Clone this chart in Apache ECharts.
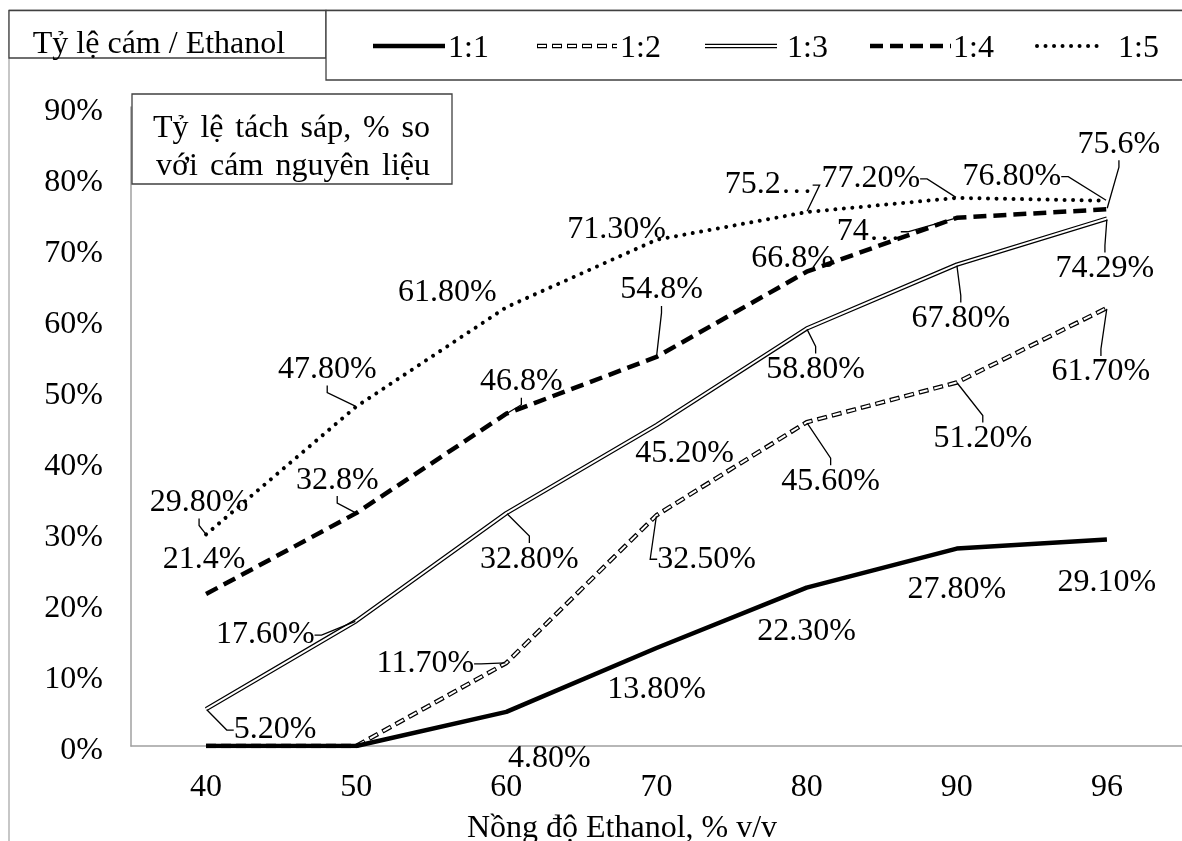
<!DOCTYPE html>
<html><head><meta charset="utf-8">
<script src="https://cdn.jsdelivr.net/npm/echarts@6/dist/echarts.min.js"></script>
<style>html,body{margin:0;padding:0;background:#fff}#c{width:1182px;height:841px}</style>
</head><body><div id="c"></div>
<script>
// ---------- data ----------
const categories = ['40', '50', '60', '70', '80', '90', '96'];
const seriesNames = ['1:1', '1:2', '1:3', '1:4', '1:5'];
const v11 = [0, 0, 4.8, 13.8, 22.3, 27.8, 29.1];
const v12 = [0, 0, 11.7, 32.5, 45.6, 51.2, 61.7];
const v13 = [5.2, 17.6, 32.8, 45.2, 58.8, 67.8, 74.29];
const v14 = [21.4, 32.8, 46.8, 54.8, 66.8, 74.4, 75.6];
const v15 = [29.8, 47.8, 61.8, 71.3, 75.2, 77.2, 76.8];
const t11 = [null, null, '4.80%', '13.80%', '22.30%', '27.80%', '29.10%'];
const t12 = [null, null, '11.70%', '32.50%', '45.60%', '51.20%', '61.70%'];
const t13 = ['5.20%', '17.60%', '32.80%', '45.20%', '58.80%', '67.80%', '74.29%'];
const t14 = ['21.4%', '32.8%', '46.8%', '54.8%', '66.8%', '74…', '75.6%'];
const t15 = ['29.80%', '47.80%', '61.80%', '71.30%', '75.2…', '77.20%', '76.80%'];
const yMin = 0, yMax = 90, yStep = 10;
const xTitle = 'Nồng độ Ethanol, % v/v';
const yTitle = ['Tỷ lệ tách sáp, % so', 'với cám nguyên liệu'];
const legendTitle = 'Tỷ lệ cám / Ethanol';

// ---------- layout (label offsets from point: dx, dy, leader) ----------
const o11 = [null, null, [43, 45, 0], [0, 40, 0], [0, 42, 0], [0, 39, 0], [0, 41, 0]];
const o12 = [null, null, [-81, -1, 1], [50, 42, 1], [24, 57, 1], [26, 54, 1], [-6, 62, 1]];
const o13 = [[69, 19, 1], [-91, 12, 1], [23, 44, 1], [28, 27, 0], [9, 39, 1], [4, 52, 1], [-2, 48, 1]];
const o14 = [[-2, -36, 0], [-19, -35, 1], [15, -34, 1], [5, -69, 1], [-14, -15, 0], [-88, 12, 1], [12, -67, 1]];
const o15 = [[-7, -34, 1], [-29, -39, 1], [-59, -17, 0], [-40, -12, 0], [-38, -29, 1], [-86, -21, 1], [-95, -26, 1]];
const LBL_DY = 2;   // text baseline correction
const TXT_DY = 3;

const FONT = '"Liberation Serif", "Times New Roman", serif';
const FS = 32;

function lineSeries(name, vals, ls, z) {
  return {
    type: 'line', name: name, data: vals, z: z, silent: true,
    symbol: 'none', animation: false,
    lineStyle: ls, emphasis: { disabled: true }
  };
}
function labelSeries(name, vals, texts, offs) {
  return {
    type: 'line', name: name + ' labels', z: 10, silent: true, animation: false,
    symbol: 'circle', symbolSize: 2, showSymbol: true,
    itemStyle: { color: 'rgba(0,0,0,0)' },
    lineStyle: { opacity: 0, width: 0 },
    emphasis: { disabled: true },
    data: vals.map((v, i) => ({
      value: v,
      label: { show: texts[i] != null, formatter: texts[i] || '' },
      labelLine: { show: !!(offs[i] && offs[i][2]) }
    })),
    label: { color: '#000', fontFamily: FONT, fontSize: FS, position: 'inside' },
    labelLine: { show: true, length2: 7, smooth: false, minTurnAngle: 0,
      lineStyle: { color: '#000', width: 1.3 } },
    labelLayout: function (p) {
      const o = offs[p.dataIndex];
      if (!o) return {};
      return {
        x: p.rect.x + p.rect.width / 2 + o[0],
        y: p.rect.y + p.rect.height / 2 + o[1] + LBL_DY,
        align: 'center', verticalAlign: 'middle'
      };
    }
  };
}

const series = [
  lineSeries('1:2', v12, { color: '#000', width: 4.5, type: [10, 5], cap: 'butt' }, 2),
  lineSeries('1:2 inner', v12, { color: '#fff', width: 2, type: [8, 7], dashOffset: -1, cap: 'butt' }, 2),
  lineSeries('1:1', v11, { color: '#000', width: 4.5, type: 'solid' }, 2),
  lineSeries('1:3', v13, { color: '#000', width: 4.5, type: 'solid' }, 2),
  lineSeries('1:3 inner', v13, { color: '#fff', width: 2, type: 'solid' }, 2),
  lineSeries('1:4', v14, { color: '#000', width: 4.5, type: [13, 7], cap: 'butt' }, 2),
  lineSeries('1:5', v15, { color: '#000', width: 4, type: [0.01, 8.5], cap: 'round' }, 2),
  labelSeries('1:1', v11, t11, o11),
  labelSeries('1:2', v12, t12, o12),
  labelSeries('1:3', v13, t13, o13),
  labelSeries('1:4', v14, t14, o14),
  labelSeries('1:5', v15, t15, o15)
];

// legend drawn as graphics (styles mimic the series)
const LY = 46;
const FONTSTR = FS + 'px ' + FONT;
function gl(x1, x2, style) {
  return { type: 'line', z: 20, silent: true, shape: { x1: x1, y1: LY, x2: x2, y2: LY }, style: style };
}
function gt(text, x, y, align) {
  return { type: 'text', z: 21, silent: true, x: x, y: y + TXT_DY,
    style: { text: text, font: FONTSTR, fill: '#000', align: align || 'left', verticalAlign: 'middle',
      textAlign: align || 'left', textVerticalAlign: 'middle' } };
}
// justified line of words between x0 and x1
const mctx = document.createElement('canvas').getContext('2d');
mctx.font = FONTSTR;
function justified(text, x0, x1, y) {
  const words = text.split(' ');
  const widths = words.map(w => mctx.measureText(w).width);
  const total = widths.reduce((a, b) => a + b, 0);
  const gap = (x1 - x0 - total) / (words.length - 1);
  const out = [];
  let x = x0;
  words.forEach((w, i) => { out.push(gt(w, x, y, 'left')); x += widths[i] + gap; });
  return out;
}
const legendX = [[373, 445, 448], [537, 617, 620], [705, 777, 787], [870, 951, 953], [1037, 1103, 1118]];
const graphic = [
  // outer frame (cropped)
  { type: 'line', z: 19, silent: true, shape: { x1: 9, y1: 10, x2: 9, y2: 841 }, style: { stroke: '#b4b4b4', lineWidth: 1.5 } },
  { type: 'line', z: 19, silent: true, shape: { x1: 9, y1: 10.5, x2: 1182, y2: 10.5 }, style: { stroke: '#5a5a5a', lineWidth: 1.5 } },
  // legend title box
  { type: 'rect', z: 19, silent: true, shape: { x: 9, y: 10.5, width: 317, height: 47.5 }, style: { fill: '#fff', stroke: '#404040', lineWidth: 1.3 } },
  // legend box
  { type: 'rect', z: 19, silent: true, shape: { x: 326, y: 10.5, width: 900, height: 69.5 }, style: { fill: '#fff', stroke: '#404040', lineWidth: 1.3 } },
  // y title box
  { type: 'rect', z: 19, silent: true, shape: { x: 132, y: 94, width: 320, height: 90 }, style: { fill: '#fff', stroke: '#404040', lineWidth: 1.3 } },
  gt(legendTitle, 159, 42, 'center'),
  gt(xTitle, 622, 826, 'center'),
  // legend samples
  gl(legendX[0][0], legendX[0][1], { stroke: '#000', lineWidth: 4.5 }),
  gl(legendX[1][0], legendX[1][1], { stroke: '#000', lineWidth: 4.5, lineDash: [10, 5] }),
  gl(legendX[1][0], legendX[1][1], { stroke: '#fff', lineWidth: 2, lineDash: [8, 7], lineDashOffset: -1 }),
  gl(legendX[2][0], legendX[2][1], { stroke: '#000', lineWidth: 4.5 }),
  gl(legendX[2][0], legendX[2][1], { stroke: '#fff', lineWidth: 2 }),
  gl(legendX[3][0], legendX[3][1], { stroke: '#000', lineWidth: 4.5, lineDash: [13, 7] }),
  gl(legendX[4][0], legendX[4][1], { stroke: '#000', lineWidth: 4, lineDash: [0.01, 8.5], lineCap: 'round' })
].concat(justified(yTitle[0], 153, 430, 126), justified(yTitle[1], 156, 430, 164));
seriesNames.forEach((n, i) => graphic.push(gt(n, legendX[i][2], LY, 'left')));

const chart = echarts.init(document.getElementById('c'), null, { renderer: 'canvas' });
chart.setOption({
  animation: false,
  backgroundColor: '#fff',
  textStyle: { fontFamily: FONT },
  grid: { left: 131, top: 107, width: 1063, height: 639, containLabel: false },
  xAxis: {
    type: 'category', data: categories, boundaryGap: true,
    axisLine: { lineStyle: { color: '#a0a0a0', width: 1.5 } },
    axisTick: { show: false },
    axisLabel: { color: '#000', fontFamily: FONT, fontSize: FS, margin: 26 },
    splitLine: { show: false }
  },
  yAxis: {
    type: 'value', min: yMin, max: yMax, interval: yStep,
    axisLine: { show: true, lineStyle: { color: '#a0a0a0', width: 1.5 } },
    axisTick: { show: false },
    axisLabel: { margin: 28, formatter: v => '{a|' + v + '%}',
      rich: { a: { color: '#000', fontFamily: FONT, fontSize: FS, padding: [9, 0, 0, 0] } } },
    splitLine: { show: false }
  },
  tooltip: { show: false },
  series: series,
  graphic: graphic
});
</script>
</body></html>
